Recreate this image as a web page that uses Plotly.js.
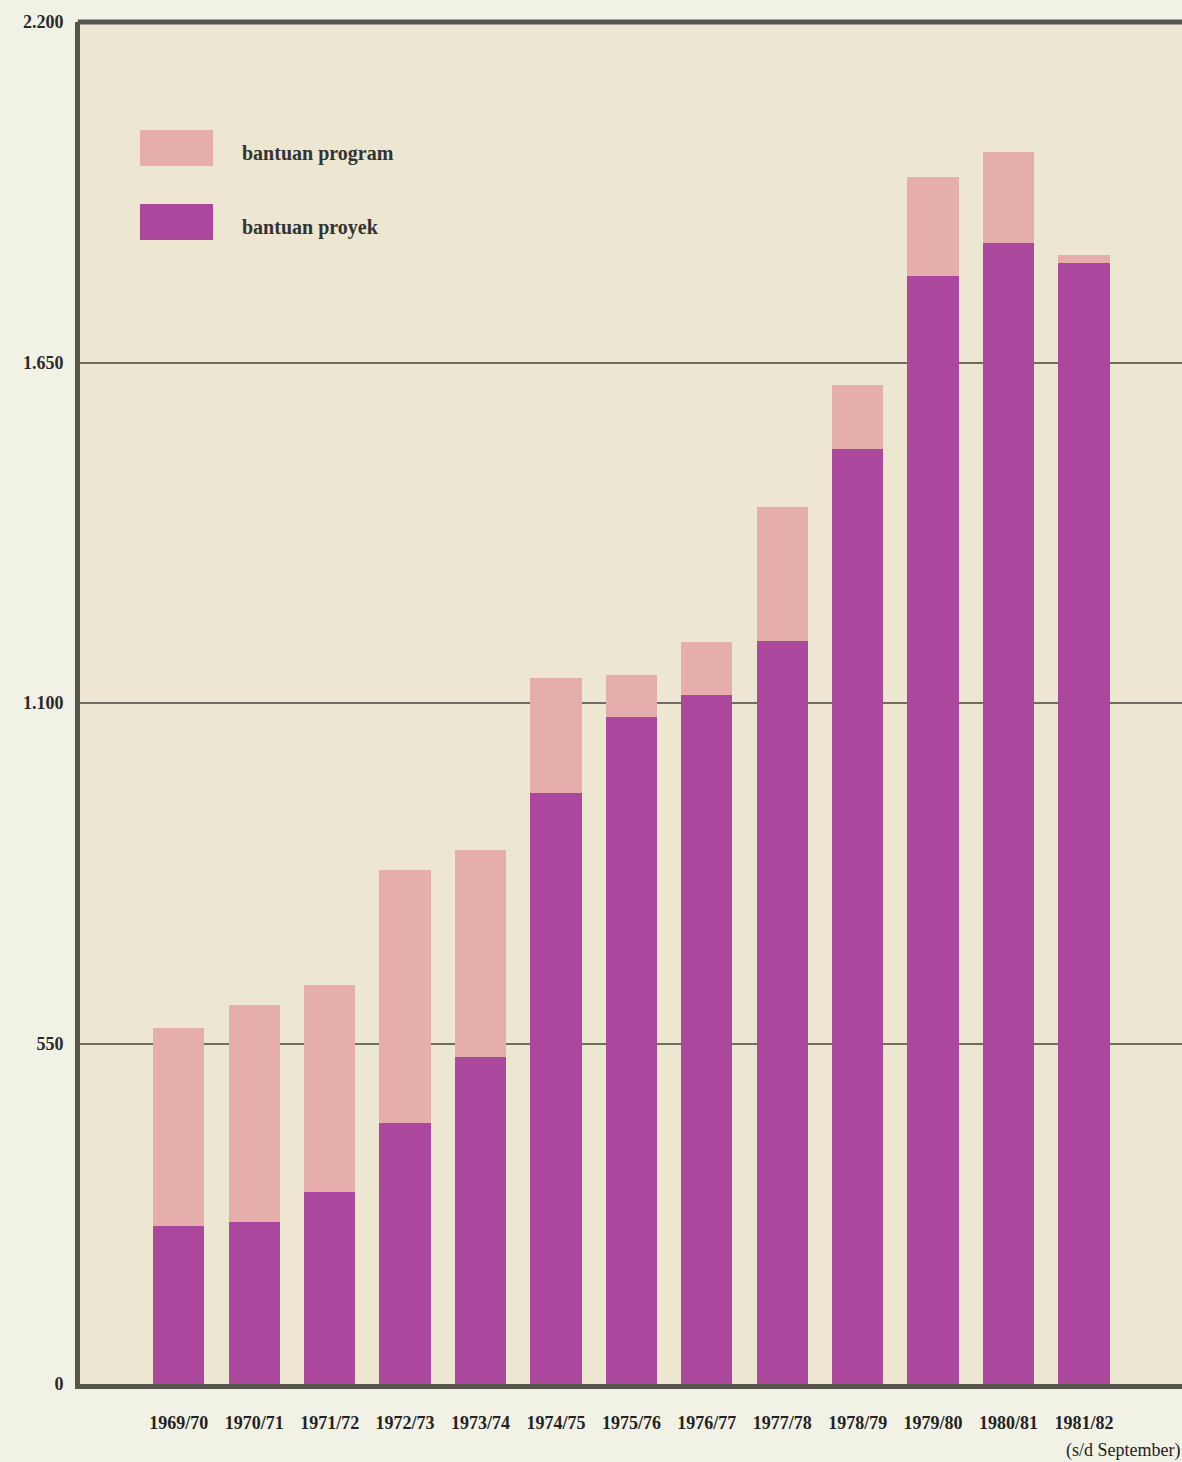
<!DOCTYPE html>
<html>
<head>
<meta charset="utf-8">
<script src="https://cdn.plot.ly/plotly-3.0.1.min.js"></script>
<style>
html,body{margin:0;padding:0;background:#f2f1e6;}
#chart{width:1182px;height:1462px;}
</style>
</head>
<body>
<div id="chart"></div>
<script>
// Data (bilion Rp)
const years = ["1969/70","1970/71","1971/72","1972/73","1973/74","1974/75","1975/76","1976/77","1977/78","1978/79","1979/80","1980/81","1981/82"];
const bantuanProyek = [255, 262, 310, 422, 528, 955, 1078, 1113, 1200, 1510, 1790, 1843, 1811];
const bantuanProgram = [320, 350, 335, 408, 335, 186, 67, 86, 217, 104, 160, 147, 13];
const yTickVals = [0, 550, 1100, 1650, 2200];
const yTickText = ["0", "550", "1.100", "1.650", "2.200"];
const legendLabels = ["bantuan program", "bantuan proyek"];
const footNote = "(s/d September)";

const colProyek = "#ab479d";
const colProgram = "#e6aeab";
const frameCol = "#55554c";
const serif = "Liberation Serif, DejaVu Serif, serif";

const traces = [
  {type: "bar", x: years, y: bantuanProyek, name: legendLabels[1],
   marker: {color: colProyek, line: {width: 0}}, hoverinfo: "x+y"},
  {type: "bar", x: years, y: bantuanProgram, name: legendLabels[0],
   marker: {color: colProgram, line: {width: 0}}, hoverinfo: "x+y"}
];

const layout = {
  width: 1182, height: 1462,
  margin: {l: 80, r: 0, t: 22, b: 78, pad: 0},
  paper_bgcolor: "#f2f1e6",
  plot_bgcolor: "#ede6d1",
  barmode: "stack",
  bargap: 0.32,
  showlegend: false,
  xaxis: {
    type: "category",
    range: [-1.31, 13.3],
    showgrid: false, zeroline: false,
    showline: true, linecolor: frameCol, linewidth: 5,
    ticks: "", ticklabelstandoff: 18,
    tickfont: {family: serif, size: 18, color: "#222", weight: "bold"}
  },
  yaxis: {
    range: [0, 2200],
    tickvals: yTickVals, ticktext: yTickText,
    showgrid: true, gridcolor: "#6e6d60", gridwidth: 2,
    zeroline: false,
    showline: true, linecolor: frameCol, linewidth: 5,
    ticks: "", ticklabelstandoff: 8,
    tickfont: {family: serif, size: 18, color: "#2a2a2a", weight: "bold"}
  },
  shapes: [
    {type: "line", xref: "paper", yref: "paper", x0: -0.002, x1: 1, y0: 1, y1: 1,
     line: {color: frameCol, width: 5}},
    {type: "rect", xref: "paper", yref: "paper", x0: 0.0544, x1: 0.1207, y0: 0.8943, y1: 0.9207,
     fillcolor: colProgram, line: {width: 0}},
    {type: "rect", xref: "paper", yref: "paper", x0: 0.0544, x1: 0.1207, y0: 0.8399, y1: 0.8664,
     fillcolor: colProyek, line: {width: 0}}
  ],
  annotations: [
    {xref: "paper", yref: "paper", x: 0.1452, y: 0.9031, xanchor: "left", yanchor: "middle",
     text: legendLabels[0], showarrow: false,
     font: {family: serif, size: 20, color: "#333", weight: "bold"}},
    {xref: "paper", yref: "paper", x: 0.1452, y: 0.8488, xanchor: "left", yanchor: "middle",
     text: legendLabels[1], showarrow: false,
     font: {family: serif, size: 20, color: "#333", weight: "bold"}},
    {xref: "paper", yref: "paper", x: 1, y: -0.0485, xanchor: "right", yanchor: "middle",
     text: footNote, showarrow: false,
     font: {family: serif, size: 18, color: "#222"}}
  ]
};

Plotly.newPlot("chart", traces, layout, {displayModeBar: false, staticPlot: true});
</script>
</body>
</html>
